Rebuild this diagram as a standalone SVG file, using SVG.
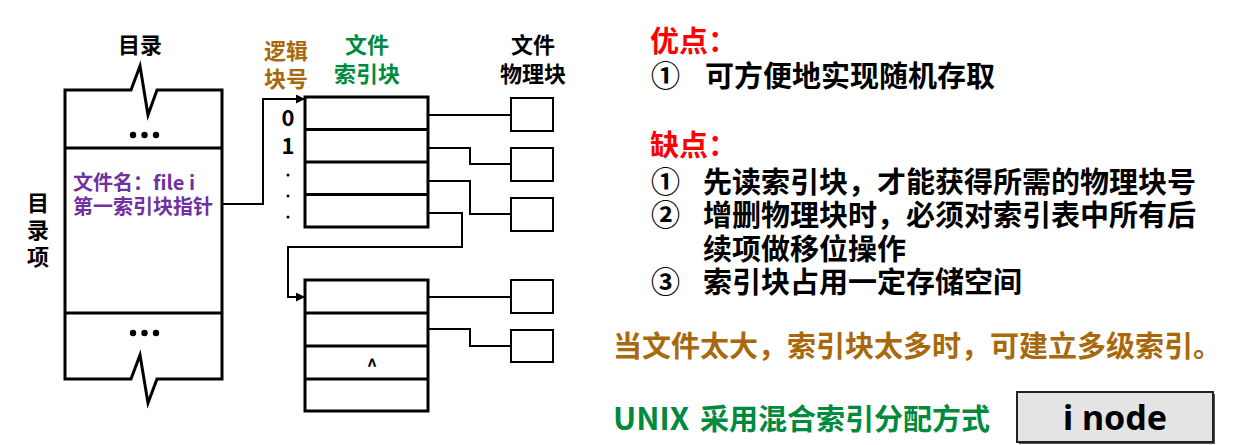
<svg xmlns="http://www.w3.org/2000/svg" width="1242" height="445" viewBox="0 0 1242 445">
<style>
text{font-family:"Noto Sans CJK SC","Noto Sans",sans-serif;font-weight:bold;}
.thick{fill:#fff;stroke:#000;stroke-width:3;stroke-linejoin:miter;}
.div{stroke:#000;stroke-width:3;}
.phys{fill:#fff;stroke:#000;stroke-width:2;}
.conn{fill:none;stroke:#000;stroke-width:2;}
.lbl{fill:#000;}
.brown{fill:#A8690C;}
.green{fill:#008A3E;}
.purple{fill:#7030A0;}
.red{fill:#FF0000;}
.big{font-size:29px;}
</style>
<defs>
<marker id="arr" viewBox="0 0 10 10" refX="10" refY="5" markerWidth="9" markerHeight="9" markerUnits="userSpaceOnUse" orient="auto">
<path d="M0,0 L10,5 L0,10 Z" fill="#000"/>
</marker>
</defs>
<rect width="1242" height="445" fill="#fff"/>

<g id="directory">
<path class="thick" d="M65,90 H131 L140,66 L148,115 L157,90 H222 V379 H157 L148,403 L140,355 L131,379 H65 Z"/>
<line class="div" x1="65" y1="148" x2="222" y2="148"/>
<line class="div" x1="65" y1="313" x2="222" y2="313"/>
<circle cx="133" cy="135" r="3.2"/><circle cx="144.5" cy="135" r="3.2"/><circle cx="156" cy="135" r="3.2"/>
<circle cx="133" cy="333" r="3.2"/><circle cx="144.5" cy="333" r="3.2"/><circle cx="156" cy="333" r="3.2"/>
<text class="purple" x="73" y="190" font-size="20">文件名：file i</text>
<text class="purple" x="73" y="214" font-size="20">第一索引块指针</text>
<text class="lbl" x="140" y="53" font-size="22" text-anchor="middle">目录</text>
<text class="lbl" x="38" y="211" font-size="22" text-anchor="middle">目</text>
<text class="lbl" x="38" y="238" font-size="22" text-anchor="middle">录</text>
<text class="lbl" x="38" y="265" font-size="22" text-anchor="middle">项</text>
</g>

<g id="index-block-1">
<rect class="thick" x="305" y="97" width="123" height="130"/>
<line class="div" x1="305" y1="129.5" x2="428" y2="129.5"/>
<line class="div" x1="305" y1="162" x2="428" y2="162"/>
<line class="div" x1="305" y1="194.5" x2="428" y2="194.5"/>
<text class="lbl" x="288" y="126" font-size="22" text-anchor="middle">0</text>
<text class="lbl" x="288" y="154" font-size="22" text-anchor="middle">1</text>
<circle cx="288" cy="175" r="1.5"/><circle cx="288" cy="196" r="1.5"/><circle cx="288" cy="217" r="1.5"/>
<text class="brown" x="286" y="59" font-size="22" text-anchor="middle">逻辑</text>
<text class="brown" x="286" y="87" font-size="22" text-anchor="middle">块号</text>
<text class="green" x="367" y="53" font-size="22" text-anchor="middle">文件</text>
<text class="green" x="367" y="82" font-size="22" text-anchor="middle">索引块</text>
</g>

<g id="index-block-2">
<rect class="thick" x="305" y="280" width="123" height="131"/>
<line class="div" x1="305" y1="313" x2="428" y2="313"/>
<line class="div" x1="305" y1="346" x2="428" y2="346"/>
<line class="div" x1="305" y1="379" x2="428" y2="379"/>
<text x="372" y="372" font-size="18" text-anchor="middle">^</text>
</g>

<g id="physical-blocks">
<text class="lbl" x="533" y="53" font-size="22" text-anchor="middle">文件</text>
<text class="lbl" x="533" y="82" font-size="22" text-anchor="middle">物理块</text>
<rect id="phys-0" class="phys" x="511" y="98" width="42" height="33"/>
<rect id="phys-1" class="phys" x="511" y="148" width="42" height="33"/>
<rect id="phys-2" class="phys" x="511" y="198" width="42" height="33"/>
<rect id="phys-3" class="phys" x="511" y="280" width="42" height="33"/>
<rect id="phys-4" class="phys" x="511" y="330" width="42" height="32"/>
</g>

<g id="connectors">
<path class="conn" d="M222,204 H263 V99 H305" marker-end="url(#arr)"/>
<path class="conn" d="M428,115 H511"/>
<path class="conn" d="M428,148 H470 V164 H511"/>
<path class="conn" d="M428,181 H470 V214 H511"/>
<path class="conn" d="M428,213 H462 V247 H288 V297 H305" marker-end="url(#arr)"/>
<path class="conn" d="M428,297 H511"/>
<path class="conn" d="M428,329 H470 V346 H511"/>
</g>

<g id="notes">
<text class="red big" x="650" y="52">优点：</text>
<text class="big" x="651" y="87">①</text>
<text class="big" x="705" y="87">可方便地实现随机存取</text>
<text class="red big" x="650" y="156">缺点：</text>
<text class="big" x="651" y="193">①</text>
<text class="big" x="703" y="193">先读索引块，才能获得所需的物理块号</text>
<text class="big" x="651" y="226">②</text>
<text class="big" x="703" y="226">增删物理块时，必须对索引表中所有后</text>
<text class="big" x="703" y="260">续项做移位操作</text>
<text class="big" x="651" y="293">③</text>
<text class="big" x="703" y="293">索引块占用一定存储空间</text>
<text class="brown big" x="613" y="357">当文件太大，索引块太多时，可建立多级索引。</text>
<text class="green big" x="613" y="430"><tspan font-size="31">UNIX</tspan><tspan x="700">采用混合索引分配方式</tspan></text>
</g>

<g id="inode">
<rect x="1019" y="394" width="196" height="50" fill="#555"/>
<rect x="1017" y="392" width="196" height="50" fill="#E4E4E4" stroke="#222" stroke-width="2"/>
<text x="1115" y="430" font-size="34" text-anchor="middle" style="font-family:'Noto Sans',sans-serif">i node</text>
</g>
</svg>
